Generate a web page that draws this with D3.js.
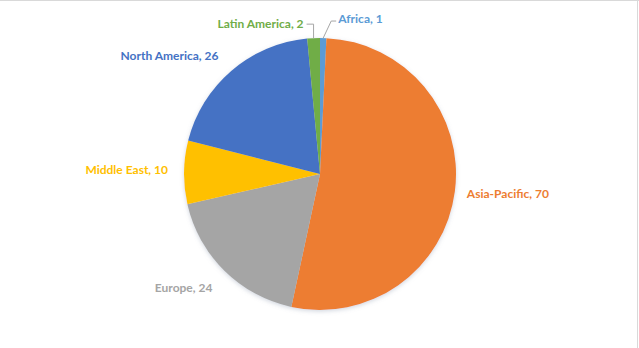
<!DOCTYPE html>
<html lang="en">
  <head>
    <meta charset="UTF-8" />
    <title>Pie Chart by Region</title>
    <style>
      body {
        margin: 0;
        background: #fff;
      }
      .label {
        font-family: Lato, "Open Sans", sans-serif;
        font-size: 12px;
        font-weight: 700;
      }
    </style>
  </head>
  <body>
    <div id="chart"></div>

    <script src="https://d3js.org/d3.v7.min.js"></script>
    <script>
      // data, clockwise from 12 o'clock
      const regions = ["Africa", "Asia-Pacific", "Europe", "Middle East", "North America", "Latin America"];
      const values = [1, 70, 24, 10, 26, 2];
      const colors = ["#5B9BD5", "#ED7D31", "#A5A5A5", "#FFC000", "#4472C4", "#70AD47"];

      // label nudges from the slice edge (layout only)
      const labelDx = [15, 12, -12, -16, -13, -10];
      const labelDy = [-15, 6, 21, 2, -11, -10];
      const labelAnchor = ["start", "start", "end", "end", "end", "end"];

      const w = 639;
      const h = 348;
      const cx = 320;
      const cy = 174;
      const r = 136;

      const svg = d3
        .select("#chart")
        .append("svg")
        .attr("width", w)
        .attr("height", h);

      // thin frame on top and right like the screenshot
      svg.append("line").attr("x1", 0).attr("x2", w).attr("y1", 0.5).attr("y2", 0.5)
        .attr("stroke", "#d9d9d9");
      svg.append("line").attr("x1", w - 1.5).attr("x2", w - 1.5).attr("y1", 0).attr("y2", h)
        .attr("stroke", "#d9d9d9");

      // soft shadow around the pie
      const filter = svg.append("defs").append("filter")
        .attr("id", "shadow")
        .attr("x", "-20%").attr("y", "-20%")
        .attr("width", "140%").attr("height", "140%");
      filter.append("feDropShadow")
        .attr("dx", 0).attr("dy", 1.5)
        .attr("stdDeviation", 2)
        .attr("flood-color", "#7f8fa6")
        .attr("flood-opacity", 0.35);

      const pie = d3.pie().sort(null).value((d) => d);
      const arcs = pie(values);

      const arc = d3.arc().innerRadius(0).outerRadius(r);
      const edge = d3.arc().innerRadius(r).outerRadius(r);

      const g = svg.append("g").attr("transform", `translate(${cx}, ${cy})`);

      g.append("g")
        .attr("filter", "url(#shadow)")
        .selectAll("path")
        .data(arcs)
        .enter()
        .append("path")
        .attr("d", arc)
        .attr("fill", (d, i) => colors[i]);

      // leader lines for the two tiny slices
      const leader = (i, pts) => {
        g.append("polyline")
          .attr("points", pts.map((p) => p.join(",")).join(" "))
          .attr("fill", "none")
          .attr("stroke", "#a6a6a6")
          .attr("stroke-width", 1);
      };

      arcs.forEach((d, i) => {
        const [ex, ey] = edge.centroid(d);
        const tx = ex + labelDx[i];
        const ty = ey + labelDy[i];

        if (regions[i] === "Latin America") {
          leader(i, [[ex, ey], [ex, ty - 4], [tx + 3, ty - 4]]);
        }
        if (regions[i] === "Africa") {
          leader(i, [[ex, ey], [tx - 7, ty - 2], [tx - 2, ty - 2]]);
        }

        g.append("text")
          .attr("class", "label")
          .attr("x", tx)
          .attr("y", ty)
          .attr("text-anchor", labelAnchor[i])
          .attr("fill", colors[i])
          .text(`${regions[i]}, ${values[i]}`);
      });
    </script>
  </body>
</html>
